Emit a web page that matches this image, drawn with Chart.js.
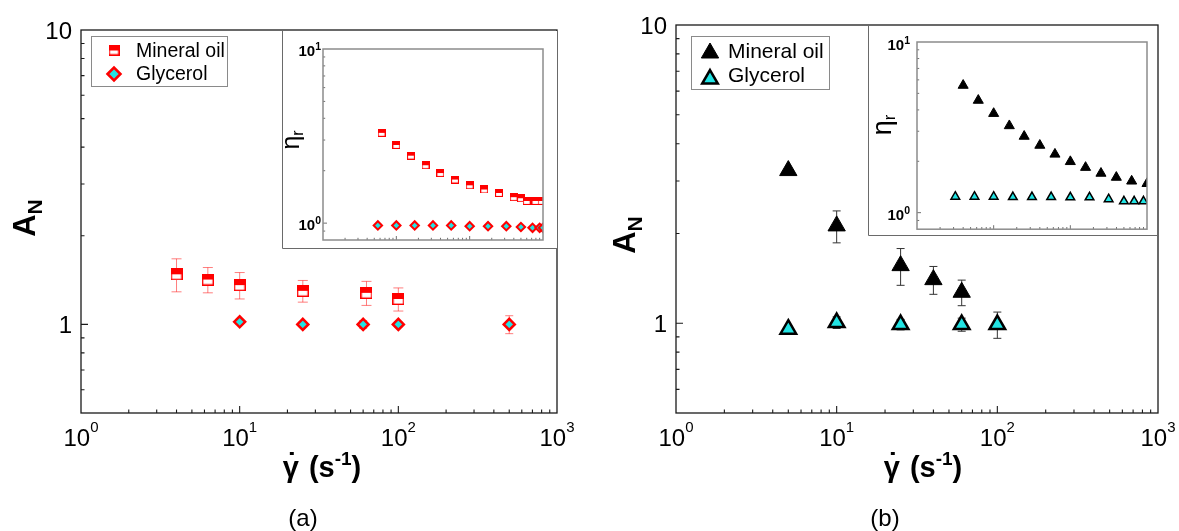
<!DOCTYPE html>
<html>
<head>
<meta charset="utf-8">
<title>Normal stress ratio and relative viscosity versus shear rate</title>
<script src="https://cdn.jsdelivr.net/npm/chart.js@4/dist/chart.umd.min.js"></script>
<style>
  html, body { margin: 0; padding: 0; background: #fff; }
  #figure { position: relative; width: 1179px; height: 531px; overflow: hidden; background: #fff; }
  #figure canvas { position: absolute; display: block; }
</style>
</head>
<body>
<div id="figure">
  <canvas id="panelA" width="590" height="531" style="left:0;top:0"></canvas>
  <canvas id="panelB" width="589" height="531" style="left:590px;top:0"></canvas>
  <canvas id="insetA" width="275" height="218" style="left:282px;top:31px"></canvas>
  <canvas id="insetB" width="289" height="210" style="left:868px;top:26px"></canvas>
</div>
<script>
// ---------------- data ----------------
const seriesNames = ['Mineral oil', 'Glycerol'];

// panel (a): A_N against shear rate
const shearA_oil = [4, 6.3, 10, 25, 63, 100];
const AN_A_oil   = [1.48, 1.42, 1.36, 1.30, 1.28, 1.22];
const errA_oil   = [0.19, 0.14, 0.14, 0.11, 0.12, 0.11];
const shearA_gly = [10, 25, 60, 100, 500];
const AN_A_gly   = [1.02, 1.0, 1.0, 1.0, 1.0];
const errA_gly   = [0.02, 0.02, 0.03, 0.02, 0.07];

// inset (a): relative viscosity
const shearA_inOil = [6.3, 10, 15.8, 25, 39.8, 63, 100, 158, 251, 398, 500, 600, 790, 955];
const etaA_inOil   = [3.30, 2.81, 2.44, 2.15, 1.94, 1.78, 1.65, 1.56, 1.49, 1.41, 1.39, 1.34, 1.34, 1.34];
const shearA_inGly = [5.6, 10, 17.8, 31.6, 56, 100, 178, 316, 500, 720, 900, 1000];
const etaA_inGly   = [0.97, 0.97, 0.97, 0.97, 0.97, 0.96, 0.96, 0.96, 0.95, 0.94, 0.94, 0.94];

// panel (b): A_N against shear rate
const shearB_oil = [5, 10, 25, 40, 60];
const AN_B_oil   = [3.25, 2.12, 1.56, 1.40, 1.27];
const errB_oil   = [0, 0.26, 0.22, 0.15, 0.125];
const shearB_gly = [5, 10, 25, 60, 100];
const AN_B_gly   = [0.955, 1.005, 0.99, 0.99, 0.99];
const errB_gly   = [0, 0.045, 0.04, 0.05, 0.10];

// inset (b): relative viscosity
const shearB_inOil = [4, 6.3, 10, 16, 25, 40, 63, 100, 158, 251, 398, 631, 1000];
const etaB_inOil   = [5.57, 4.55, 3.81, 3.23, 2.80, 2.48, 2.20, 1.99, 1.84, 1.70, 1.61, 1.53, 1.48];
const shearB_inGly = [3.16, 5.62, 10, 17.8, 31.6, 56.2, 100, 178, 316, 500, 680, 900];
const etaB_inGly   = [1.24, 1.24, 1.24, 1.235, 1.235, 1.235, 1.23, 1.23, 1.20, 1.165, 1.165, 1.165];

// tick labels
const decadeValues = [1, 10, 100, 1000];
const decadeBase   = ['10', '10', '10', '10'];
const decadeExp    = ['0', '1', '2', '3'];
const mainYValues  = [1, 10];
const mainYLabels  = ['1', '10'];
const insetYValues = [1, 10];
const insetYBase   = ['10', '10'];
const insetYExp    = ['0', '1'];

// ---------------- styling helpers ----------------
const FONT = '"Liberation Sans", Arial, Helvetica, sans-serif';
const RED = '#ff0000';
const CYAN = '#22e4e4';

const pts = (xs, ys) => xs.map((x, i) => ({ x: x, y: ys[i] }));

// half-filled square marker: solid top, open bottom
function halfSquare(size, border) {
  const c = document.createElement('canvas');
  c.width = size; c.height = size;
  const g = c.getContext('2d');
  g.fillStyle = '#fff'; g.fillRect(0, 0, size, size);
  g.fillStyle = RED; g.fillRect(0, 0, size, Math.round(size / 2));
  g.strokeStyle = RED; g.lineWidth = border;
  g.strokeRect(border / 2, border / 2, size - border, size - border);
  return c;
}
const sqMain = halfSquare(12, 1.4);
const sqLegend = halfSquare(11, 1.4);
const sqInset = halfSquare(8, 1.1);

function minorValues(min, max) {
  const out = [];
  for (let e = Math.floor(Math.log10(min)); e < Math.ceil(Math.log10(max)); e++) {
    const d = Math.pow(10, e);
    for (let m = 2; m <= 9; m++) {
      const v = m * d;
      if (v > min * 1.0001 && v < max * 0.9999) out.push(v);
    }
  }
  return out;
}

function supText(ctx, base, sup, x, y, o) {
  ctx.save();
  ctx.fillStyle = '#000';
  ctx.textBaseline = 'alphabetic';
  ctx.textAlign = 'left';
  ctx.font = o.font;
  const wb = ctx.measureText(base).width;
  ctx.font = o.supFont;
  const ws = sup ? ctx.measureText(sup).width : 0;
  const w = wb + ws;
  const x0 = o.align === 'center' ? x - w / 2 : (o.align === 'right' ? x - w : x);
  ctx.font = o.font;
  ctx.fillText(base, x0, y);
  if (sup) { ctx.font = o.supFont; ctx.fillText(sup, x0 + wb, y - o.rise); }
  ctx.restore();
}

function rotatedSub(ctx, t) {
  ctx.save();
  ctx.translate(t.x, t.y);
  ctx.rotate(-Math.PI / 2);
  ctx.fillStyle = '#000';
  ctx.textBaseline = 'alphabetic';
  ctx.textAlign = 'left';
  ctx.font = t.font;
  const w1 = ctx.measureText(t.text).width;
  ctx.font = t.subFont;
  const w2 = ctx.measureText(t.sub).width;
  const x0 = -(w1 + w2) / 2;
  ctx.font = t.font; ctx.fillText(t.text, x0, 0);
  ctx.font = t.subFont; ctx.fillText(t.sub, x0 + w1, t.drop);
  ctx.restore();
}

// shear-rate axis title: gamma-dot (s^-1)
function shearTitle(ctx, t) {
  ctx.save();
  ctx.fillStyle = '#000';
  ctx.textBaseline = 'alphabetic';
  ctx.textAlign = 'left';
  ctx.font = t.font;
  const wg = ctx.measureText('γ').width;
  const wo = ctx.measureText('(s').width;
  const wc = ctx.measureText(')').width;
  ctx.font = t.supFont;
  const ws = ctx.measureText('-1').width;
  const total = wg + t.gap + wo + ws + wc;
  let x = t.x - total / 2;
  ctx.font = t.font;
  ctx.fillText('γ', x, t.y);
  ctx.textAlign = 'center';
  ctx.fillText('˙', x + wg / 2 + t.dotDx, t.y - t.dotRise);
  ctx.textAlign = 'left';
  x += wg + t.gap;
  ctx.fillText('(s', x, t.y);
  x += wo;
  ctx.font = t.supFont;
  ctx.fillText('-1', x, t.y - t.rise);
  x += ws;
  ctx.font = t.font;
  ctx.fillText(')', x, t.y);
  ctx.restore();
}

function drawMarker(ctx, opts, x, y) {
  if (Chart.helpers && Chart.helpers.drawPoint) {
    Chart.helpers.drawPoint(ctx, opts, x, y);
    return;
  }
  const s = opts.pointStyle, r = opts.radius;
  if (typeof s === 'object') { ctx.drawImage(s, x - s.width / 2, y - s.height / 2); return; }
  ctx.beginPath();
  if (s === 'triangle') {
    ctx.moveTo(x, y - r);
    ctx.lineTo(x + 0.866 * r, y + r / 2);
    ctx.lineTo(x - 0.866 * r, y + r / 2);
  } else {
    ctx.moveTo(x - r, y); ctx.lineTo(x, y - r); ctx.lineTo(x + r, y); ctx.lineTo(x, y + r);
  }
  ctx.closePath();
  ctx.fill();
  if (opts.borderWidth > 0) ctx.stroke();
}

function drawErrorBars(chart, bars) {
  const { ctx, chartArea: a, scales } = chart;
  const xs = scales.x, ys = scales.y;
  ctx.save();
  ctx.beginPath(); ctx.rect(a.left, a.top, a.right - a.left, a.bottom - a.top); ctx.clip();
  bars.forEach(b => {
    const data = chart.data.datasets[b.dataset].data;
    ctx.strokeStyle = b.color; ctx.lineWidth = b.width;
    data.forEach((p, i) => {
      const e = b.errors[i];
      if (!e) return;
      const px = xs.getPixelForValue(p.x);
      const top = ys.getPixelForValue(p.y + e), bot = ys.getPixelForValue(p.y - e);
      ctx.beginPath();
      ctx.moveTo(px, top); ctx.lineTo(px, bot);
      ctx.moveTo(px - b.cap, top); ctx.lineTo(px + b.cap, top);
      ctx.moveTo(px - b.cap, bot); ctx.lineTo(px + b.cap, bot);
      ctx.stroke();
    });
  });
  ctx.restore();
}

function drawFrame(chart, c) {
  const { ctx, chartArea: a, scales } = chart;
  const xs = scales.x, ys = scales.y, t = c.ticks;
  ctx.save();
  ctx.strokeStyle = t.color; ctx.lineWidth = t.width;
  ctx.beginPath();
  const xt = (v, len) => { const p = xs.getPixelForValue(v); ctx.moveTo(p, a.bottom); ctx.lineTo(p, a.bottom - len); };
  const yt = (v, len) => { const p = ys.getPixelForValue(v); ctx.moveTo(a.left, p); ctx.lineTo(a.left + len, p); };
  decadeValues.forEach(v => { if (v > xs.min && v < xs.max) xt(v, t.major); });
  minorValues(xs.min, xs.max).forEach(v => xt(v, t.minor));
  c.yMajor.forEach(v => { if (v > ys.min && v < ys.max) yt(v, t.major); });
  minorValues(ys.min, ys.max).forEach(v => yt(v, t.minor));
  ctx.stroke();
  ctx.strokeStyle = c.frame.color; ctx.lineWidth = c.frame.width;
  ctx.strokeRect(a.left, a.top, a.right - a.left, a.bottom - a.top);
  ctx.restore();
}

function drawText(chart, c) {
  const { ctx, chartArea: a, scales } = chart;
  const xs = scales.x, ys = scales.y;
  const L = c.labels;
  if (L.x) L.x.values.forEach((v, i) =>
    supText(ctx, L.x.base[i], L.x.exp[i], xs.getPixelForValue(v), L.x.baseline,
      { font: L.x.font, supFont: L.x.supFont, rise: L.x.rise, align: 'center' }));
  if (L.y) L.y.values.forEach((v, i) =>
    supText(ctx, L.y.base[i], L.y.exp ? L.y.exp[i] : '', a.left - L.y.gap, ys.getPixelForValue(v) + L.y.dy,
      { font: L.y.font, supFont: L.y.supFont, rise: L.y.rise, align: 'right' }));
  if (c.yTitle) rotatedSub(ctx, c.yTitle);
  if (c.xTitle) shearTitle(ctx, c.xTitle);
  if (c.caption) {
    ctx.save();
    ctx.fillStyle = '#000'; ctx.font = c.caption.font; ctx.textAlign = 'center'; ctx.textBaseline = 'alphabetic';
    ctx.fillText(c.caption.text, c.caption.x, c.caption.y);
    ctx.restore();
  }
}

function drawLegend(chart, L) {
  const ctx = chart.ctx;
  ctx.save();
  ctx.strokeStyle = L.boxColor; ctx.lineWidth = 1;
  ctx.strokeRect(L.box[0] + 0.5, L.box[1] + 0.5, L.box[2], L.box[3]);
  L.items.forEach((it, i) => {
    const ds = chart.data.datasets[i];
    ctx.fillStyle = ds.pointBackgroundColor;
    ctx.strokeStyle = ds.pointBorderColor;
    ctx.lineWidth = it.borderWidth;
    drawMarker(ctx, { pointStyle: it.style || ds.pointStyle, rotation: 0, radius: it.radius, borderWidth: it.borderWidth }, L.markerX, it.my);
    ctx.fillStyle = '#000';
    ctx.font = L.font;
    ctx.textAlign = 'left'; ctx.textBaseline = 'alphabetic';
    ctx.fillText(seriesNames[i], L.textX, it.ty);
  });
  ctx.restore();
}

function figurePlugin(c) {
  return {
    id: 'figure_' + c.name,
    beforeDraw(chart) {
      const { ctx, width, height } = chart;
      ctx.save();
      ctx.fillStyle = '#fff'; ctx.fillRect(0, 0, width, height);
      if (c.outerBox) {
        ctx.strokeStyle = c.outerBox; ctx.lineWidth = 1;
        ctx.beginPath();
        ctx.moveTo(0.5, 0); ctx.lineTo(0.5, height - 0.5); ctx.lineTo(width, height - 0.5);
        ctx.stroke();
      }
      ctx.restore();
    },
    beforeDatasetsDraw(chart) { drawErrorBars(chart, c.errorBars || []); },
    afterDatasetsDraw(chart) {
      drawFrame(chart, c);
      drawText(chart, c);
      if (c.legend) drawLegend(chart, c.legend);
    }
  };
}

function baseOptions(pad, xr, yr) {
  return {
    responsive: false, animation: false, events: [],
    layout: { padding: pad },
    plugins: { legend: { display: false }, tooltip: { enabled: false } },
    scales: {
      x: { type: 'logarithmic', min: xr[0], max: xr[1], display: false },
      y: { type: 'logarithmic', min: yr[0], max: yr[1], display: false }
    }
  };
}

function scatterSet(data, style, radius, fill, border, bw, clip) {
  const d = {
    data: data, showLine: false,
    pointStyle: style, pointRadius: radius, pointHoverRadius: radius,
    pointBackgroundColor: fill, pointBorderColor: border, pointBorderWidth: bw,
    backgroundColor: fill, borderColor: border
  };
  if (clip !== undefined) d.clip = clip;
  return d;
}

const mainTicks = { color: '#1a1a1a', width: 1.1, major: 7, minor: 3.5 };
const mainFrame = { color: '#1a1a1a', width: 1.3 };
const insetTicks = { color: '#707070', width: 1, major: 4, minor: 2.2 };
const insetFrame = { color: '#8c8c8c', width: 1.5 };

// ---------------- panel (a) ----------------
new Chart(document.getElementById('panelA'), {
  type: 'scatter',
  data: { datasets: [
    scatterSet(pts(shearA_oil, AN_A_oil), sqMain, 6, RED, RED, 1),
    scatterSet(pts(shearA_gly, AN_A_gly), 'rectRot', 5.5, CYAN, RED, 2.5)
  ] },
  options: baseOptions({ left: 81, top: 30, right: 33, bottom: 118 }, [1, 1000], [0.5, 10]),
  plugins: [figurePlugin({
    name: 'a',
    ticks: mainTicks, frame: mainFrame, yMajor: mainYValues,
    errorBars: [
      { dataset: 0, errors: errA_oil, color: 'rgba(255,40,40,0.6)', width: 1, cap: 5 },
      { dataset: 1, errors: errA_gly, color: 'rgba(255,40,40,0.6)', width: 1, cap: 4 }
    ],
    labels: {
      x: { values: decadeValues, base: decadeBase, exp: decadeExp, baseline: 446,
           font: '24px ' + FONT, supFont: '15px ' + FONT, rise: 14 },
      y: { values: mainYValues, base: mainYLabels, gap: 9, dy: 8.5, font: '24px ' + FONT }
    },
    yTitle: { text: 'A', sub: 'N', x: 35, y: 218, font: 'bold 31px ' + FONT, subFont: 'bold 21px ' + FONT, drop: 7 },
    xTitle: { x: 322, y: 477, font: 'bold 29px ' + FONT, supFont: 'bold 19px ' + FONT, rise: 12, gap: 10, dotDx: 1, dotRise: 3 },
    caption: { text: '(a)', x: 303, y: 526, font: '24px ' + FONT },
    legend: {
      box: [91, 36, 136, 50], boxColor: '#8a8a8a', markerX: 114, textX: 136, font: '19.5px ' + FONT,
      items: [ { style: sqLegend, radius: 6, borderWidth: 1, my: 50, ty: 57 },
               { radius: 6.5, borderWidth: 2.5, my: 74, ty: 80 } ]
    }
  })]
});

// ---------------- inset (a) ----------------
new Chart(document.getElementById('insetA'), {
  type: 'scatter',
  data: { datasets: [
    scatterSet(pts(shearA_inOil, etaA_inOil), sqInset, 4, RED, RED, 1, 0),
    scatterSet(pts(shearA_inGly, etaA_inGly), 'rectRot', 4.2, CYAN, RED, 2, 0)
  ] },
  options: baseOptions({ left: 41, top: 18, right: 14, bottom: 9 }, [1, 1000], [0.8, 10]),
  plugins: [figurePlugin({
    name: 'ia', outerBox: '#6a6a6a',
    ticks: insetTicks, frame: insetFrame, yMajor: insetYValues,
    labels: {
      y: { values: insetYValues, base: insetYBase, exp: insetYExp, gap: 2, dy: 6.5,
           font: 'bold 15px ' + FONT, supFont: 'bold 10.5px ' + FONT, rise: 6 }
    },
    yTitle: { text: 'η', sub: 'r', x: 17, y: 109, font: '25px ' + FONT, subFont: '16px ' + FONT, drop: 4 }
  })]
});

// ---------------- panel (b) ----------------
new Chart(document.getElementById('panelB'), {
  type: 'scatter',
  data: { datasets: [
    scatterSet(pts(shearB_oil, AN_B_oil), 'triangle', 10, '#000', '#000', 1),
    scatterSet(pts(shearB_gly, AN_B_gly), 'triangle', 9, CYAN, '#000', 2.5)
  ] },
  options: baseOptions({ left: 86, top: 25, right: 21, bottom: 118 }, [1, 1000], [0.5, 10]),
  plugins: [figurePlugin({
    name: 'b',
    ticks: mainTicks, frame: mainFrame, yMajor: mainYValues,
    errorBars: [
      { dataset: 0, errors: errB_oil, color: '#333', width: 1, cap: 4 },
      { dataset: 1, errors: errB_gly, color: '#333', width: 1, cap: 4 }
    ],
    labels: {
      x: { values: decadeValues, base: decadeBase, exp: decadeExp, baseline: 446,
           font: '24px ' + FONT, supFont: '15px ' + FONT, rise: 14 },
      y: { values: mainYValues, base: mainYLabels, gap: 9, dy: 8.5, font: '24px ' + FONT }
    },
    yTitle: { text: 'A', sub: 'N', x: 45, y: 235, font: 'bold 31px ' + FONT, subFont: 'bold 21px ' + FONT, drop: 7 },
    xTitle: { x: 333, y: 477, font: 'bold 29px ' + FONT, supFont: 'bold 19px ' + FONT, rise: 12, gap: 10, dotDx: 1, dotRise: 3 },
    caption: { text: '(b)', x: 295, y: 526, font: '24px ' + FONT },
    legend: {
      box: [101, 36, 138, 53], boxColor: '#8a8a8a', markerX: 120, textX: 138, font: '21px ' + FONT,
      items: [ { radius: 10, borderWidth: 1, my: 53, ty: 58 },
               { radius: 9, borderWidth: 2.5, my: 79, ty: 82 } ]
    }
  })]
});

// ---------------- inset (b) ----------------
new Chart(document.getElementById('insetB'), {
  type: 'scatter',
  data: { datasets: [
    scatterSet(pts(shearB_inOil, etaB_inOil), 'triangle', 5.8, '#000', '#000', 1, 0),
    scatterSet(pts(shearB_inGly, etaB_inGly), 'triangle', 5, CYAN, '#000', 1.5, 0)
  ] },
  options: baseOptions({ left: 49, top: 16, right: 10, bottom: 6 }, [1, 1000], [0.8, 10]),
  plugins: [figurePlugin({
    name: 'ib', outerBox: '#6a6a6a',
    ticks: insetTicks, frame: insetFrame, yMajor: insetYValues,
    labels: {
      y: { values: insetYValues, base: insetYBase, exp: insetYExp, gap: 7, dy: 7.5,
           font: 'bold 15px ' + FONT, supFont: 'bold 10.5px ' + FONT, rise: 6 }
    },
    yTitle: { text: 'η', sub: 'r', x: 23, y: 99, font: '27px ' + FONT, subFont: '17px ' + FONT, drop: 4 }
  })]
});
</script>
</body>
</html>
